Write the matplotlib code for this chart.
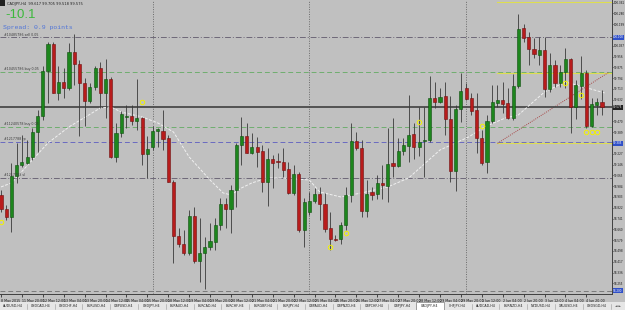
import numpy as np
import pandas as pd
import matplotlib
matplotlib.use("Agg")
import matplotlib.pyplot as plt
from matplotlib.patches import Rectangle

# ---- canvas geometry (pixels of the 625x310 screenshot) ----
W, H = 625, 310
PLOT_R, PLOT_B = 612, 294          # right / bottom edge of the price pane
BAR_PX = 5.226                     # horizontal distance between bars
TOP_PRICE = 100.380
PX_PRICE = 0.0075                  # price per vertical pixel

BG = "#c0c0c0"
BULL = "#1d861d"
BEAR = "#b81c1c"
WICK = "#3a3a3a"

# ---- CADJPY H4, 11 May 2015 04:00 -> 5 Jun 2015 08:00 ----
opens = [98.918, 98.810, 98.755, 99.060, 99.140, 99.160, 99.200, 99.390, 99.512, 99.850,
         100.050, 99.685, 99.763, 99.722, 99.988, 99.898, 99.760, 99.625, 99.728, 99.868,
         99.685, 99.785, 99.205, 99.385, 99.505, 99.510, 99.475, 99.495, 99.223, 99.280,
         99.398, 99.398, 99.343, 99.017, 98.610, 98.550, 98.485, 98.760, 98.423, 98.485,
         98.525, 98.567, 98.693, 98.850, 98.810, 98.955, 99.293, 99.360, 99.230, 99.280,
         99.245, 99.017, 99.190, 99.170, 99.167, 99.110, 98.930, 99.073, 98.655, 98.788,
         98.875, 98.925, 98.848, 98.668, 98.590, 98.590, 98.690, 98.918, 99.323, 99.272,
         98.800, 98.940, 98.925, 99.010, 98.987, 99.155, 99.137, 99.250, 99.287, 99.375,
         99.275, 99.323, 99.330, 99.643, 99.617, 99.658, 99.488, 99.100, 99.560, 99.718,
         99.643, 99.555, 99.347, 99.163, 99.475, 99.610, 99.630, 99.605, 99.493, 99.735,
         100.168, 100.100, 100.010, 99.968, 100.005, 99.710, 99.893, 99.755, 99.842, 99.935,
         99.575, 99.735, 99.835, 99.435, 99.595, 99.617]
highs = [98.955, 98.843, 99.155, 99.305, 99.368, 99.330, 99.418, 99.555, 99.885, 100.067,
         100.067, 99.887, 99.868, 100.055, 100.125, 99.930, 99.793, 99.755, 99.885, 99.917,
         99.935, 99.805, 99.455, 99.550, 99.593, 99.593, 99.785, 99.505, 99.362, 99.435,
         99.418, 99.555, 99.368, 99.030, 98.668, 98.655, 98.805, 98.830, 98.743, 98.605,
         98.705, 98.743, 98.893, 98.893, 98.993, 99.305, 99.500, 99.460, 99.380, 99.355,
         99.290, 99.268, 99.218, 99.230, 99.268, 99.167, 99.143, 99.092, 98.895, 98.942,
         98.968, 98.980, 98.935, 98.792, 98.618, 98.717, 98.980, 99.455, 99.392, 99.330,
         99.030, 98.980, 99.068, 99.143, 99.418, 99.493, 99.343, 99.343, 99.668, 99.455,
         99.575, 99.580, 99.810, 99.767, 99.718, 99.767, 99.660, 99.593, 99.830, 99.755,
         99.680, 99.680, 99.405, 99.518, 99.743, 99.743, 99.767, 99.718, 99.825, 100.275,
         100.200, 100.142, 100.093, 100.100, 100.100, 99.985, 99.930, 99.893, 100.018, 99.943,
         99.780, 99.960, 99.855, 99.643, 99.643, 99.705]
lows = [98.792, 98.730, 98.642, 99.005, 99.130, 99.150, 99.180, 99.242, 99.480, 99.605,
        99.680, 99.630, 99.643, 99.705, 99.743, 99.360, 99.435, 99.605, 99.705, 99.568,
        99.493, 99.193, 99.167, 99.355, 99.418, 99.443, 99.405, 99.143, 99.043, 99.255,
        99.280, 99.255, 99.013, 98.408, 98.530, 98.468, 98.468, 98.405, 98.265, 98.213,
        98.505, 98.505, 98.655, 98.668, 98.630, 98.830, 99.143, 99.230, 99.225, 99.130,
        98.942, 98.835, 98.968, 99.118, 99.055, 98.925, 98.918, 98.642, 98.530, 98.768,
        98.858, 98.730, 98.642, 98.505, 98.575, 98.550, 98.655, 98.867, 99.255, 98.755,
        98.750, 98.880, 98.885, 98.885, 98.863, 99.055, 99.130, 99.218, 99.167, 99.185,
        99.210, 99.055, 99.317, 99.568, 99.605, 99.368, 99.017, 98.950, 99.467, 99.630,
        99.518, 99.235, 99.143, 99.080, 99.455, 99.580, 99.535, 99.485, 99.480, 99.718,
        100.067, 99.893, 99.943, 99.893, 99.655, 99.692, 99.725, 99.725, 99.718, 99.380,
        99.485, 99.635, 99.418, 99.425, 99.518, 99.518]
closes = [98.810, 98.755, 99.060, 99.143, 99.167, 99.205, 99.392, 99.512, 99.850, 100.050,
          99.685, 99.763, 99.722, 99.988, 99.898, 99.760, 99.625, 99.730, 99.868, 99.685,
          99.785, 99.205, 99.385, 99.523, 99.512, 99.475, 99.495, 99.223, 99.260, 99.398,
          99.410, 99.338, 99.017, 98.610, 98.550, 98.485, 98.760, 98.423, 98.485, 98.525,
          98.573, 98.693, 98.850, 98.810, 98.955, 99.293, 99.360, 99.235, 99.280, 99.242,
          99.017, 99.185, 99.155, 99.163, 99.105, 98.930, 99.073, 98.655, 98.867, 98.873,
          98.925, 98.848, 98.663, 98.585, 98.582, 98.690, 98.918, 99.323, 99.268, 98.800,
          98.923, 98.918, 99.010, 98.990, 99.150, 99.137, 99.250, 99.290, 99.370, 99.275,
          99.315, 99.330, 99.643, 99.617, 99.655, 99.488, 99.100, 99.565, 99.700, 99.640,
          99.548, 99.347, 99.160, 99.475, 99.613, 99.630, 99.602, 99.493, 99.735, 100.160,
          100.093, 100.010, 99.973, 100.005, 99.710, 99.893, 99.755, 99.842, 99.935, 99.575,
          99.743, 99.830, 99.435, 99.600, 99.617, 99.575]

# moving average (bar index, price)
ma_idx = [0, 2, 6, 9, 13, 19, 21, 23, 27, 30, 33, 36, 40, 42.5, 44, 46, 48, 51, 54, 59,
          61, 65, 69, 74, 78, 84, 87, 89.5, 92.5, 96.5, 99, 104, 108, 111.5, 115.5]
ma_val = [98.978, 99.008, 99.180, 99.308, 99.428, 99.570, 99.578, 99.540, 99.503, 99.458,
          99.390, 99.203, 99.030, 98.933, 98.918, 98.970, 99.008, 99.045, 99.045, 99.030,
          98.940, 98.903, 98.933, 98.978, 99.045, 99.255, 99.308, 99.353, 99.428, 99.495,
          99.518, 99.690, 99.765, 99.728, 99.683]

# order / level lines across the whole pane
level_prices = [100.100, 99.838, 99.430, 99.318, 99.043, 98.200]
level_colors = ["#6e6878", "#6fae6f", "#6fae6f", "#6a6ac0", "#6e6878", "#7a7a7a"]
level_styles = [(0, (6, 2, 1, 2)), (0, (5, 3)), (0, (5, 3)), (0, (5, 3)), (0, (6, 2, 1, 2)), (0, (5, 3))]
level_tags = ["#10485786 sell 0.05", "#10455786 buy 0.05", "#11240578 buy 0.05",
              "#1217788 tp", "#1217788 sl", ""]

# indicator levels on the right side
target_start = 95
target_prices = [100.365, 99.835, 99.305]
trend_idx = [95, 116.3]
trend_val = [99.305, 99.838]

# trade arrows
arrow_idx = [0, 27, 63, 66, 80, 92, 108, 111, 112, 113, 114]
arrow_val = [98.715, 99.615, 98.528, 98.633, 99.465, 99.435, 99.758, 99.668, 99.390, 99.390, 99.390]

tick_labels = ["8 May 2015", "11 May 20:00", "12 May 12:00", "13 May 04:00", "13 May 20:00",
               "14 May 12:00", "15 May 04:00", "15 May 20:00", "18 May 12:00", "19 May 04:00",
               "19 May 20:00", "20 May 12:00", "21 May 04:00", "21 May 20:00", "22 May 12:00",
               "25 May 04:00", "25 May 20:00", "26 May 12:00", "27 May 04:00", "27 May 20:00",
               "28 May 12:00", "29 May 04:00", "29 May 20:00", "1 Jun 12:00", "2 Jun 04:00",
               "2 Jun 20:00", "3 Jun 12:00", "4 Jun 04:00", "4 Jun 20:00"]

tabs = ["AUDUSD,H4", "USDCAD,H4", "USDCHF,H4", "EURUSD,H4", "GBPUSD,H4", "USDJPY,H4",
        "EURAUD,H4", "EURCAD,H4", "EURCHF,H4", "EURGBP,H4", "EURJPY,H4", "GBPAUD,H4",
        "GBPNZD,H4", "GBPCHF,H4", "GBPJPY,H4", "CADJPY,H4", "CHFJPY,H4", "AUDCAD,H4",
        "EURNZD,H4", "NZDUSD,H4", "XAUUSD,H4", "USDSGD,H4"]
ACTIVE_TAB = "CADJPY,H4"

dates = pd.date_range("2015-05-11 04:00", "2015-06-05 08:00", freq="4h")
dates = dates[dates.weekday < 5]


def fx(px):
    return px / W


def fy(py):
    return 1 - py / H


o = np.array(opens)
h = np.array(highs)
l = np.array(lows)
c = np.array(closes)
x = np.arange(len(c))

fig = plt.figure(figsize=(W / 100, H / 100), dpi=100)
fig.patch.set_facecolor(BG)
ax = fig.add_axes([0, 1 - PLOT_B / H, PLOT_R / W, PLOT_B / H])
ax.set_facecolor(BG)

x0 = -1 / BAR_PX
ax.set_xlim(x0, x0 + PLOT_R / BAR_PX)
ax.set_ylim(TOP_PRICE - PLOT_B * PX_PRICE, TOP_PRICE)

# week separators
for i, d in enumerate(dates):
    if d.weekday() == 0 and d.hour == 0:
        ax.axvline(i, color="#6a6a6a", lw=0.7, ls=(0, (1, 1.5)), zorder=1)

# level lines with their order tags
for p, col, st, tag in zip(level_prices, level_colors, level_styles, level_tags):
    ax.axhline(p, color=col, lw=0.7, ls=st, zorder=1)
    if tag:
        ax.text(0.5, p + 0.006, tag, fontsize=2.3, color="#3a3a3a",
                va="bottom", ha="left", zorder=6)

for p in target_prices:
    ax.plot([target_start, ax.get_xlim()[1]], [p, p], color="#dede50", lw=0.8, zorder=2)
ax.plot(trend_idx, trend_val, color="#a84848", lw=0.7, ls=(0, (1, 1.2)), zorder=2)

# current price
ax.axhline(c[-1], color="#4a4a4a", lw=1.3, zorder=2)

# moving average
ax.plot(ma_idx, ma_val, color="#f0f0f0", lw=0.7, ls=(0, (3, 1.5)), zorder=2)

# candles
up = c >= o
ax.vlines(x, l, h, color=WICK, lw=0.6, zorder=3)
body_lo = np.minimum(o, c)
body_h = np.maximum(np.abs(c - o), 0.004)
ax.bar(x[up], body_h[up], bottom=body_lo[up], width=0.6,
       color=BULL, edgecolor="#0f4f0f", linewidth=0.4, zorder=4)
ax.bar(x[~up], body_h[~up], bottom=body_lo[~up], width=0.6,
       color=BEAR, edgecolor="#6e1010", linewidth=0.4, zorder=4)

# trade arrows
ax.plot(arrow_idx, arrow_val, ls="none", marker="o", ms=3.2, mfc="none",
        mec="#f2f200", mew=0.7, zorder=5)

# price scale on the right; highlighted labels cover the plain ones near them
marked = [(100.100, "#3050c8"), (99.305, "#3050c8"), (98.200, "#3050c8"), (c[-1], "#202020")]
ax.yaxis.tick_right()
yt = np.arange(98.255, TOP_PRICE, 0.081)
yt = [v for v in yt if min(abs(v - m) for m, _ in marked) > 0.04]
ax.set_yticks(yt)
ax.set_yticklabels([f"{v:.3f}" for v in yt])
ax.tick_params(axis="y", length=0.8, width=0.5, pad=0.3, labelsize=2.0, colors="#111111")

for p, fc in marked:
    ax.text(1.002, p, f"{p:.3f}", transform=ax.get_yaxis_transform(), fontsize=2.0,
            color="white", ha="left", va="center", clip_on=False, zorder=10,
            bbox=dict(boxstyle="square,pad=0.12", fc=fc, ec="none"))

# time scale
ax.set_xticks(x[::4][:len(tick_labels)])
ax.set_xticklabels(tick_labels)
for t in ax.get_xticklabels():
    t.set_ha("left")
ax.tick_params(axis="x", length=2.5, width=0.5, pad=0.8, labelsize=2.3, colors="#111111")

for s in ("top", "left"):
    ax.spines[s].set_visible(False)
for s in ("right", "bottom"):
    ax.spines[s].set_color("#404040")
    ax.spines[s].set_linewidth(0.7)

# header texts
fig.add_artist(Rectangle((0, fy(6)), fx(5), 6 / H, transform=fig.transFigure,
                         fc="#202020", ec="none"))
fig.text(fx(7), fy(3.5), f"CADJPY,H4  {o[-1]:.3f} {h[-1]:.3f} {l[-1]:.3f} {c[-1]:.3f}",
         fontsize=2.6, color="#202020", va="center", ha="left")
fig.text(fx(5), fy(15.5), "-10.1", fontsize=9.5, color="#3cb83c", va="center", ha="left",
         family="Liberation Sans")
fig.text(fx(3), fy(27.5), "Spread: 0.9 points", fontsize=4.6, color="#4f74d8",
         va="center", ha="left", family="Liberation Mono")

# symbol tabs
tab_ax = fig.add_axes([0, 0, 1, 8 / H])
tab_ax.set_xlim(0, W)
tab_ax.set_ylim(0, 8)
tab_ax.axis("off")
tab_ax.add_patch(Rectangle((0, 0), W, 8, fc="#e6e6e6", ec="none"))
tab_w = 27.8
for k, name in enumerate(tabs):
    left = -1 + k * tab_w
    if name == ACTIVE_TAB:
        tab_ax.add_patch(Rectangle((left, 0), tab_w, 8, fc="white", ec="#808080", lw=0.5))
    else:
        tab_ax.plot([left + tab_w, left + tab_w], [1.5, 6.5], color="#9a9a9a", lw=0.4)
    tab_ax.text(left + tab_w / 2, 4, name, fontsize=2.3, ha="center", va="center",
                color="#202020")
tab_ax.text(618, 4, "\u25c4 \u25ba", fontsize=2.3, ha="center", va="center", color="#303030")

fig.savefig("out.png", dpi=100, facecolor=BG)
